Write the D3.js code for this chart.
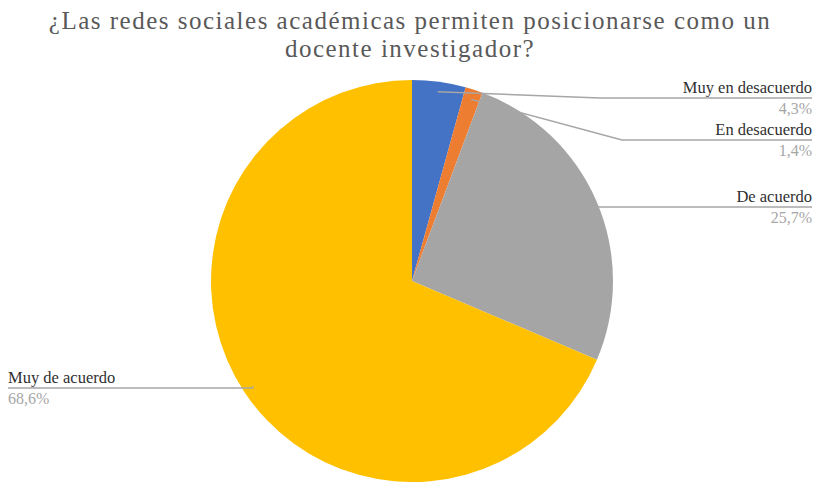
<!DOCTYPE html>
<html>
<head>
<meta charset="utf-8">
<script src="https://cdn.jsdelivr.net/npm/d3@7"></script>
<style>
  body { margin: 0; background: #fff; }
  svg { display: block; }
  svg text { font-family: "Liberation Serif", "DejaVu Serif", "Times New Roman", serif; }
</style>
</head>
<body>
<div id="chart"></div>
<script>
// data
var categories = ["Muy en desacuerdo", "En desacuerdo", "De acuerdo", "Muy de acuerdo"];
var values = [4.3, 1.4, 25.7, 68.6];
var colours = ["#4472C4", "#ED7D31", "#A5A5A5", "#FFC000"];
var titleLines = ["¿Las redes sociales académicas permiten posicionarse como un", "docente investigador?"];

function init(){
    var w = 819, h = 484;
    var cx = 412, cy = 281, r = 201;

    var svg = d3.select("#chart").append("svg")
        .attr("width", w).attr("height", h);

    // title
    svg.append("text")
        .attr("x", 410).attr("y", 29)
        .attr("text-anchor", "middle")
        .style("font-size", "25px")
        .style("letter-spacing", "1.5px")
        .style("fill", "#595959")
        .selectAll("tspan")
        .data(titleLines)
        .enter().append("tspan")
        .attr("x", 410)
        .attr("dy", function(d, i){ return i ? 28 : 0; })
        .text(function(d){ return d; });

    var data = categories.map(function(c, i){ return {name: c, value: values[i], colour: colours[i]}; });

    var pie = d3.pie().sort(null).value(function(d){ return d.value; });
    var arcs = pie(data);
    var arc = d3.arc().innerRadius(0).outerRadius(r);
    var inner = d3.arc().innerRadius(r * 0.95).outerRadius(r * 0.95);

    var g = svg.append("g").attr("transform", "translate(" + cx + "," + cy + ")");
    g.selectAll("path.slice")
        .data(arcs)
        .enter().append("path")
        .attr("class", "slice")
        .attr("d", arc)
        .style("fill", function(d){ return d.data.colour; });

    // label layout (elbow of the leader line, label edge, side)
    var layout = [
        {elbow: [600, 98], end: [812, 98], side: "right"},
        {elbow: [622, 140], end: [812, 140], side: "right"},
        {elbow: null, end: [812, 207], side: "right"},
        {elbow: null, end: [8, 388], side: "left"}
    ];

    var fmt = function(v){ return d3.format(".1f")(v).replace(".", ",") + "%"; };

    arcs.forEach(function(d, i){
        var c = inner.centroid(d);
        var start = [cx + c[0], cy + c[1]];
        var L = layout[i];
        var pts = [start];
        if (L.elbow) pts.push(L.elbow);
        else pts.push([start[0], L.end[1]]);
        pts.push(L.end);
        svg.append("path")
            .attr("d", d3.line()(pts))
            .style("fill", "none")
            .style("stroke", "#a6a6a6")
            .style("stroke-width", 1.5);

        var anchor = L.side === "right" ? "end" : "start";
        svg.append("text")
            .attr("x", L.end[0]).attr("y", L.end[1] - 5)
            .attr("text-anchor", anchor)
            .style("font-size", "16.5px")
            .style("fill", "#303030")
            .text(d.data.name);
        svg.append("text")
            .attr("x", L.end[0]).attr("y", L.end[1] + 16)
            .attr("text-anchor", anchor)
            .style("font-size", "16px")
            .style("fill", "#a6a6a6")
            .text(fmt(d.data.value));
    });
}
window.onload = init;
</script>
</body>
</html>
